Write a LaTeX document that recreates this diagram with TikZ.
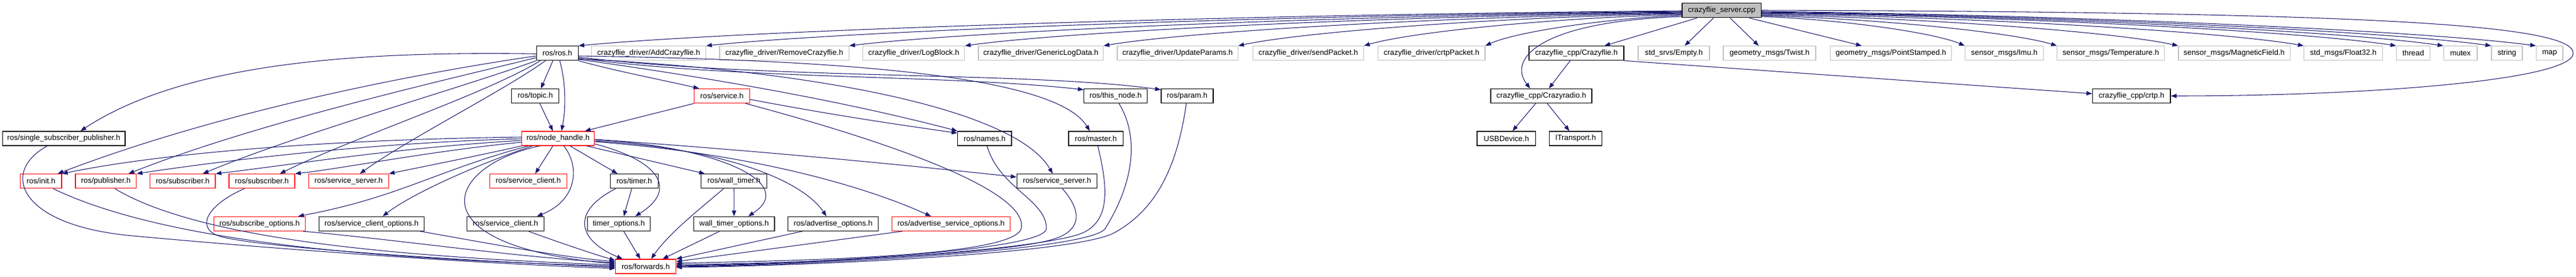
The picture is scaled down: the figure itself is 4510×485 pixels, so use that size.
\documentclass[tikz,border=0pt]{standalone}
\usepackage{fontspec}
\setmainfont{Liberation Sans}
\usetikzlibrary{arrows.meta}
\definecolor{edgeblue}{HTML}{191970}
\definecolor{greyline}{HTML}{BFBFBF}
\definecolor{rootfill}{HTML}{BFBFBF}
\begin{document}
\begin{tikzpicture}[x=0.75pt,y=-0.75pt,
  box/.style={draw, line width=0.9pt, fill=white, minimum height=18.75pt, inner sep=0pt, font=\fontsize{10}{12}\selectfont, text=black},
  bk/.style={box, draw=black},
  rd/.style={box, draw=red},
  gr/.style={box, draw=greyline},
  wd/.style={minimum width=#1*0.75pt},
  edge/.style={draw=edgeblue, line width=0.8pt, -{Triangle[length=7.5pt,width=5.5pt]}}]
\fill[white] (0,0) rectangle (4510,485);
\useasboundingbox (0,0) rectangle (4510,485);
% row 0
\node[bk, fill=rootfill, wd=138.5] (root) at (3014.25,18.4) {crazyflie\_server.cpp};
% row 1
\node[bk, wd=73] (rosh) at (975.8,93.2) {ros/ros.h};
\node[gr, wd=200] (add) at (1135.7,93.2) {crazyflie\_driver/AddCrazyflie.h};
\node[gr, wd=226.3] (remove) at (1373.2,93.2) {crazyflie\_driver/RemoveCrazyflie.h};
\node[gr, wd=178] (logblock) at (1599.8,93.2) {crazyflie\_driver/LogBlock.h};
\node[gr, wd=218.6] (generic) at (1822.3,93.2) {crazyflie\_driver/GenericLogData.h};
\node[gr, wd=211.3] (update) at (2061.7,93.2) {crazyflie\_driver/UpdateParams.h};
\node[gr, wd=194.1] (send) at (2290.4,93.2) {crazyflie\_driver/sendPacket.h};
\node[gr, wd=187.4] (crtppkt) at (2506.3,93.2) {crazyflie\_driver/crtpPacket.h};
\node[bk, wd=166] (cfh) at (2760,93.2) {crazyflie\_cpp/Crazyflie.h};
\node[gr, wd=125] (empty) at (2930.5,93.2) {std\_srvs/Empty.h};
\node[gr, wd=162] (twist) at (3098,93.2) {geometry\_msgs/Twist.h};
\node[gr, wd=211.9] (point) at (3310.6,93.2) {geometry\_msgs/PointStamped.h};
\node[gr, wd=137.4] (imu) at (3509.1,93.2) {sensor\_msgs/Imu.h};
\node[gr, wd=187.5] (temp) at (3695.5,93.2) {sensor\_msgs/Temperature.h};
\node[gr, wd=195.1] (mag) at (3911.5,93.2) {sensor\_msgs/MagneticField.h};
\node[gr, wd=137.7] (float) at (4102.6,93.2) {std\_msgs/Float32.h};
\node[gr, wd=58.7] (thread) at (4225,93.2) {thread};
\node[gr, wd=58.8] (mutex) at (4307.6,93.2) {mutex};
\node[gr, wd=54] (string) at (4389,93.2) {string};
\node[gr, wd=46.6] (map) at (4463.7,93.2) {map};
% row 2
\node[bk, wd=83] (topic) at (937.2,168) {ros/topic.h};
\node[rd, wd=96.6] (service) at (1264,168) {ros/service.h};
\node[bk, wd=111] (thisnode) at (1953.2,168) {ros/this\_node.h};
\node[bk, wd=91] (param) at (2078.5,168) {ros/param.h};
\node[bk, wd=177] (radio) at (2698.5,168) {crazyflie\_cpp/Crazyradio.h};
\node[bk, wd=136.6] (crtp) at (3731.7,168) {crazyflie\_cpp/crtp.h};
% row 3
\node[bk, wd=214.7] (ssp) at (111.65,242.4) {ros/single\_subscriber\_publisher.h};
\node[rd, wd=127.4] (nh) at (977,242.4) {ros/node\_handle.h};
\node[bk, wd=94.3] (names) at (1723.85,242.4) {ros/names.h};
\node[bk, wd=95.3] (master) at (1918.65,242.4) {ros/master.h};
\node[bk, wd=102.6] (usb) at (2637.3,242.4) {USBDevice.h};
\node[bk, wd=92.2] (itrans) at (2758.5,242.4) {ITransport.h};
% row 4
\node[rd, wd=72.3] (init) at (71.85,317.2) {ros/init.h};
\node[rd, wd=106.7] (pub) at (185.35,317.2) {ros/publisher.h};
\node[rd, wd=114.3] (sub1) at (319.85,317.2) {ros/subscriber.h};
\node[rd, wd=115] (sub2) at (458.5,317.2) {ros/subscriber.h};
\node[rd, wd=140] (ssr) at (610.3,317.2) {ros/service\_server.h};
\node[rd, wd=134.6] (scr) at (925,317.2) {ros/service\_client.h};
\node[bk, wd=83.8] (timer) at (1110.4,317.2) {ros/timer.h};
\node[bk, wd=114.6] (wtimer) at (1285,317.2) {ros/wall\_timer.h};
\node[bk, wd=140.4] (ssb) at (1850.5,317.2) {ros/service\_server.h};
% row 5
\node[rd, wd=159.6] (subopt) at (454.5,391.8) {ros/subscribe\_options.h};
\node[bk, wd=183.6] (scopt) at (650.5,391.8) {ros/service\_client\_options.h};
\node[bk, wd=134.6] (scb) at (885,391.8) {ros/service\_client.h};
\node[bk, wd=110.4] (topt) at (1083.5,391.8) {timer\_options.h};
\node[bk, wd=141.7] (wtopt) at (1285.15,391.8) {wall\_timer\_options.h};
\node[bk, wd=157.6] (aopt) at (1458.5,391.8) {ros/advertise\_options.h};
\node[rd, wd=206.6] (asopt) at (1665,391.8) {ros/advertise\_service\_options.h};
% row 6
\node[rd, wd=105.6] (fwd) at (1130.5,466.5) {ros/forwards.h};

% ---- edges from root
\draw[edge] (root.west |- 0,19) .. controls (2172,25.2) and (1302.2,52.9) .. (rosh.north east);
\draw[edge] (root.west |- 0,20) .. controls (2261.3,26.1) and (1492.1,53.4) .. (add.north east);
\draw[edge] (root.west |- 0,21) .. controls (2361.5,27) and (1705.1,53.8) .. (remove.north east);
\draw[edge] (root.west |- 0,22) .. controls (2442.5,27.9) and (1877.2,54.3) .. (logblock.north east);
\draw[edge] (root.west |- 0,23) .. controls (2539.6,28.8) and (2083.6,54.7) .. (generic.north east);
\draw[edge] (root.west |- 0,24) .. controls (2633.9,29.7) and (2284,55.2) .. (update.north east);
\draw[edge] (root.west |- 0,25.5) .. controls (2722,31) and (2471,55.9) .. (send.north east);
\draw[edge] (root.west |- 0,27) .. controls (2807,32.4) and (2651.8,56.5) .. (crtppkt.north east);
\draw[edge] (root.west |- 0,29) .. controls (2690,38) and (2640,105) .. (radio.north -| 2679,0);
\draw[edge] (root.south -| 2971,0) -- (cfh.north -| 2809,0);
\draw[edge] (root.south -| 3000,0) -- (empty.north -| 2949.5,0);
\draw[edge] (root.south -| 3029,0) -- (twist.north -| 3079,0);
\draw[edge] (root.south -| 3062.6,0) -- (point.north -| 3259.4,0);
\draw[edge] (root.east |- 0,29) .. controls (3226.3,34.2) and (3386.9,57.4) .. (imu.north west);
\draw[edge] (root.east |- 0,27.5) .. controls (3290.8,32.8) and (3524,56.8) .. (temp.north west);
\draw[edge] (root.east |- 0,26) .. controls (3375.7,31.5) and (3704.3,56.1) .. (mag.north west);
\draw[edge] (root.east |- 0,24.5) .. controls (3463.6,30.1) and (3891.2,55.4) .. (float.north west);
\draw[edge] (root.east |- 0,23) .. controls (3528.4,28.8) and (4028.9,54.7) .. (thread.north west);
\draw[edge] (root.east |- 0,22) .. controls (3561.4,27.9) and (4099,54.3) .. (mutex.north west);
\draw[edge] (root.east |- 0,21) .. controls (3594.9,27) and (4170.2,53.8) .. (string.north west);
\draw[edge] (root.east |- 0,20) .. controls (3626.3,26.1) and (4236.9,53.4) .. (map.north west);
\draw[edge] (root.east |- 0,18) .. controls (4100,21) and (4505,40) .. (4505,93) .. controls (4505,140) and (4150,168) .. (crtp.east);
% ---- crazyflie_cpp
\draw[edge] (cfh.south -| 2749,0) -- (radio.north -| 2711.7,0);
\draw[edge] (cfh.south east) -- (crtp.west |- 0,164);
\draw[edge] (radio.south -| 2688.6,0) -- (usb.north -| 2648,0);
\draw[edge] (radio.south -| 2708.8,0) -- (itrans.north -| 2747.7,0);
% ---- ros.h
\draw[edge] (rosh.west |- 0,94.3) .. controls (650,90) and (330,105) .. (ssp.north -| 141,0);
\draw[edge] (rosh.west |- 0,98) .. controls (750,125) and (400,190) .. (init.north -| 101,0);
\draw[edge] (rosh.west |- 0,101) .. controls (780,140) and (450,215) .. (pub.north -| 225,0);
\draw[edge] (rosh.south west) .. controls (820,150) and (520,235) .. (sub1.north -| 355,0);
\draw[edge] (rosh.south -| 946,0) .. controls (850,165) and (620,240) .. (sub2.north -| 490,0);
\draw[edge] (rosh.south -| 955,0) .. controls (880,160) and (720,240) .. (ssr.north -| 630,0);
\draw[edge] (rosh.south -| 968,0) -- (topic.north -| 947,0);
\draw[edge] (rosh.south -| 980,0) .. controls (992,150) and (990,195) .. (nh.north -| 983,0);
\draw[edge] (rosh.south east) .. controls (1080,125) and (1160,140) .. (service.north -| 1224,0);
\draw[edge] (rosh.east |- 0,104) .. controls (1200,130) and (1450,170) .. (names.north west);
\draw[edge] (rosh.east |- 0,102) .. controls (1300,140) and (1650,130) .. (thisnode.west |- 0,157);
\draw[edge] (rosh.east |- 0,100) .. controls (1350,140) and (1800,125) .. (param.west |- 0,157);
\draw[edge] (rosh.east |- 0,98) .. controls (1500,105) and (1850,135) .. (master.north -| 1908,0);
\draw[edge] (rosh.east |- 0,103) .. controls (1450,125) and (1780,195) .. (ssb.north -| 1843,0);
% ---- topic, service
\draw[edge] (topic.south -| 945,0) -- (nh.north -| 968,0);
\draw[edge] (service.south west) -- (nh.north -| 1024,0);
\draw[edge] (service.east |- 0,174) .. controls (1450,200) and (1550,215) .. (names.west |- 0,233);
\draw[edge] (service.south -| 1305,0) .. controls (1600,260) and (1800,340) .. (1788,400) .. controls (1775,450) and (1400,456) .. (fwd.east |- 0,461);
% ---- node_handle
\draw[edge] (nh.west |- 0,240) .. controls (600,244) and (300,265) .. (init.north east);
\draw[edge] (nh.west |- 0,243) .. controls (650,250) and (400,280) .. (pub.north east);
\draw[edge] (nh.west |- 0,246) .. controls (700,258) and (500,290) .. (sub1.north east);
\draw[edge] (nh.west |- 0,249) .. controls (750,265) and (600,295) .. (sub2.north east);
\draw[edge] (nh.south west) .. controls (850,270) and (750,290) .. (ssr.north east);
\draw[edge] (nh.south -| 968,0) -- (scr.north -| 937,0);
\draw[edge] (nh.south -| 998,0) -- (timer.north -| 1081,0);
\draw[edge] (nh.south -| 1027,0) -- (wtimer.north -| 1234,0);
\draw[edge] (nh.east |- 0,252) .. controls (1150,280) and (1190,330) .. (topt.north -| 1112,0);
\draw[edge] (nh.east |- 0,245) .. controls (1250,255) and (1400,320) .. (wtopt.north -| 1310,0);
\draw[edge] (nh.east |- 0,247) .. controls (1250,258) and (1400,310) .. (aopt.north -| 1447,0);
\draw[edge] (nh.east |- 0,248) .. controls (1300,268) and (1500,320) .. (asopt.north -| 1630,0);
\draw[edge] (nh.east |- 0,244) .. controls (1300,262) and (1550,285) .. (ssb.west |- 0,310);
\draw[edge] (nh.south -| 925,0) .. controls (760,300) and (700,345) .. (subopt.north -| 522,0);
\draw[edge] (nh.south -| 932,0) .. controls (830,290) and (720,340) .. (scopt.north -| 670,0);
\draw[edge] (nh.south -| 987,0) .. controls (1015,290) and (1012,350) .. (scb.north -| 940,0);
\draw[edge] (nh.south -| 945,0) .. controls (780,290) and (720,430) .. (fwd.west |- 0,462);
% ---- to forwards (left)
\draw[edge] (ssp.south -| 83,0) .. controls (0,300) and (30,395) .. (233,413) .. controls (450,433) and (800,460) .. (fwd.west |- 0,470);
\draw[edge] (init.south -| 93,0) .. controls (300,430) and (700,455) .. (fwd.west |- 0,466);
\draw[edge] (pub.south -| 201,0) .. controls (350,420) and (700,450) .. (fwd.west |- 0,464);
\draw[edge] (sub2.south -| 428,0) .. controls (370,355) and (340,395) .. (380,412) .. controls (430,432) and (800,456) .. (fwd.west |- 0,468);
\draw[edge] (subopt.south -| 530,0) .. controls (700,420) and (900,450) .. (fwd.west |- 0,460);
\draw[edge] (scopt.south -| 735,0) .. controls (850,425) and (980,450) .. (fwd.west |- 0,458);
\draw[edge] (scb.south -| 925,0) .. controls (980,425) and (1040,445) .. (fwd.west |- 0,456);
\draw[edge] (timer.south -| 1078,0) .. controls (1000,370) and (1010,420) .. (fwd.north -| 1090,0);
\draw[edge] (timer.south -| 1106,0) -- (topt.north -| 1092,0);
\draw[edge] (topt.south -| 1092,0) -- (fwd.north -| 1121,0);
\draw[edge] (wtimer.south) -- (wtopt.north);
\draw[edge] (wtimer.south -| 1267,0) .. controls (1220,370) and (1170,410) .. (fwd.north -| 1140,0);
\draw[edge] (wtopt.south -| 1260,0) -- (fwd.north -| 1160,0);
% ---- to forwards (right)
\draw[edge] (aopt.south -| 1405,0) -- (fwd.north east);
\draw[edge] (asopt.south -| 1580,0) -- (fwd.east |- 0,458);
\draw[edge] (names.south -| 1728,0) .. controls (1750,330) and (1832,350) .. (1832,400) .. controls (1832,440) and (1400,462) .. (fwd.east |- 0,465);
\draw[edge] (master.south -| 1922,0) .. controls (1940,330) and (1945,390) .. (1890,410) .. controls (1800,440) and (1400,464) .. (fwd.east |- 0,466);
\draw[edge] (thisnode.south -| 1959,0) .. controls (1995,240) and (1985,320) .. (1935,400) .. controls (1910,440) and (1400,465) .. (fwd.east |- 0,467);
\draw[edge] (param.south -| 2077,0) .. controls (2060,300) and (2020,370) .. (1950,408) .. controls (1880,445) and (1400,466) .. (fwd.east |- 0,468);
\draw[edge] (ssb.south -| 1860,0) .. controls (1895,370) and (1895,405) .. (1840,420) .. controls (1750,445) and (1400,462) .. (fwd.east |- 0,463);
\end{tikzpicture}
\end{document}
